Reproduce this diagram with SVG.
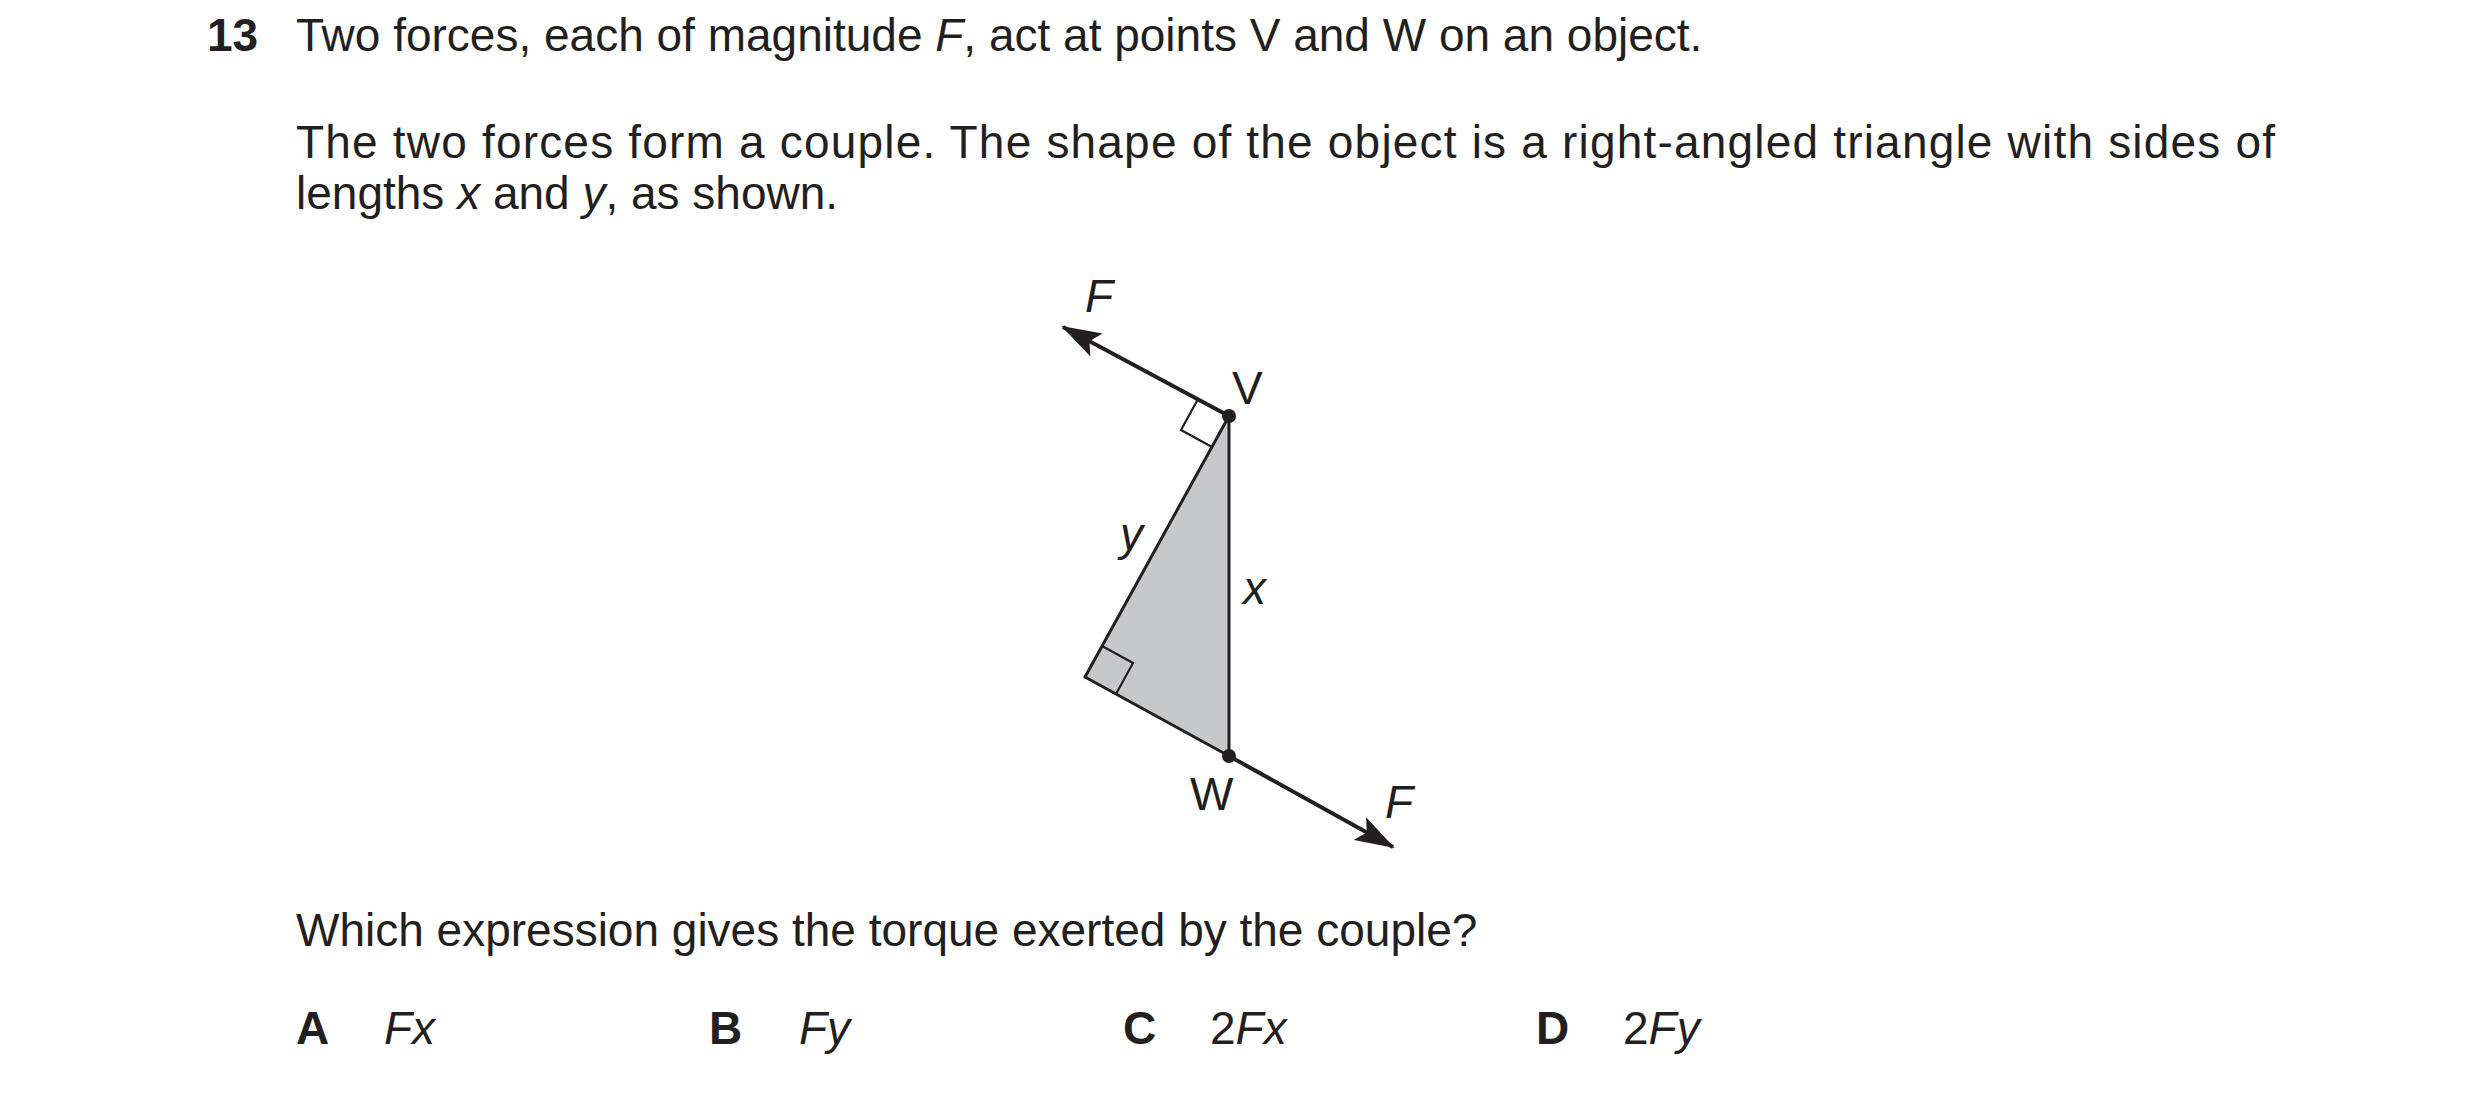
<svg xmlns="http://www.w3.org/2000/svg" width="2480" height="1093" viewBox="0 0 2480 1093">
<style>
text{font-family:"Liberation Sans",Arial,sans-serif;font-size:46px;fill:#231f20}
.b{font-weight:bold}
.i{font-style:italic}
.ln{stroke:#231f20;stroke-width:4;fill:none}
.th{stroke:#231f20;stroke-width:2.2;fill:none}
</style>
<defs>
<marker id="ah2" viewBox="0 0 40 26" markerWidth="40" markerHeight="26" refX="38" refY="13" orient="auto" markerUnits="userSpaceOnUse">
<path d="M0,0 L40,13 L0,26 L8,13 Z" fill="#231f20"/>
</marker>
</defs>
<rect width="2480" height="1093" fill="#fff"/>
<g id="question">
<text x="207" y="51" class="b">13</text>
<text x="296" y="51">Two forces, each of magnitude <tspan class="i">F</tspan>, act at points V and W on an object.</text>
<text x="296" y="158" textLength="1979" lengthAdjust="spacing">The two forces form a couple. The shape of the object is a right-angled triangle with sides of</text>
<text x="296" y="209">lengths <tspan class="i">x</tspan> and <tspan class="i">y</tspan>, as shown.</text>
<text x="296" y="946">Which expression gives the torque exerted by the couple?</text>
</g>
<g id="triangle">
<polygon points="1229,416 1085,677 1229,756" fill="#c7c8ca" stroke="#231f20" stroke-width="3" stroke-linejoin="round"/>
<polyline class="th" points="1198,399 1181,430 1212,447"/>
<polyline class="th" points="1102,646 1133,663 1116,694"/>
</g>
<g id="connectors">
<line class="ln" x1="1229" y1="416" x2="1063" y2="327" marker-end="url(#ah2)"/>
<line class="ln" x1="1229" y1="756" x2="1393" y2="847" marker-end="url(#ah2)"/>
</g>
<g id="pointV"><circle cx="1229" cy="416" r="7" fill="#231f20"/><text x="1232" y="404">V</text></g>
<g id="pointW"><circle cx="1229" cy="756" r="7" fill="#231f20"/><text x="1190" y="810">W</text></g>
<g id="labels">
<text x="1085" y="312" class="i">F</text>
<text x="1385" y="818" class="i">F</text>
<text x="1120" y="550" class="i">y</text>
<text x="1243" y="604" class="i">x</text>
</g>
<g id="options">
<text x="296" y="1044" class="b">A</text><text x="384" y="1044" class="i">Fx</text>
<text x="709" y="1044" class="b">B</text><text x="799" y="1044" class="i">Fy</text>
<text x="1123" y="1044" class="b">C</text><text x="1210" y="1044">2<tspan class="i">Fx</tspan></text>
<text x="1536" y="1044" class="b">D</text><text x="1623" y="1044">2<tspan class="i">Fy</tspan></text>
</g>
</svg>
